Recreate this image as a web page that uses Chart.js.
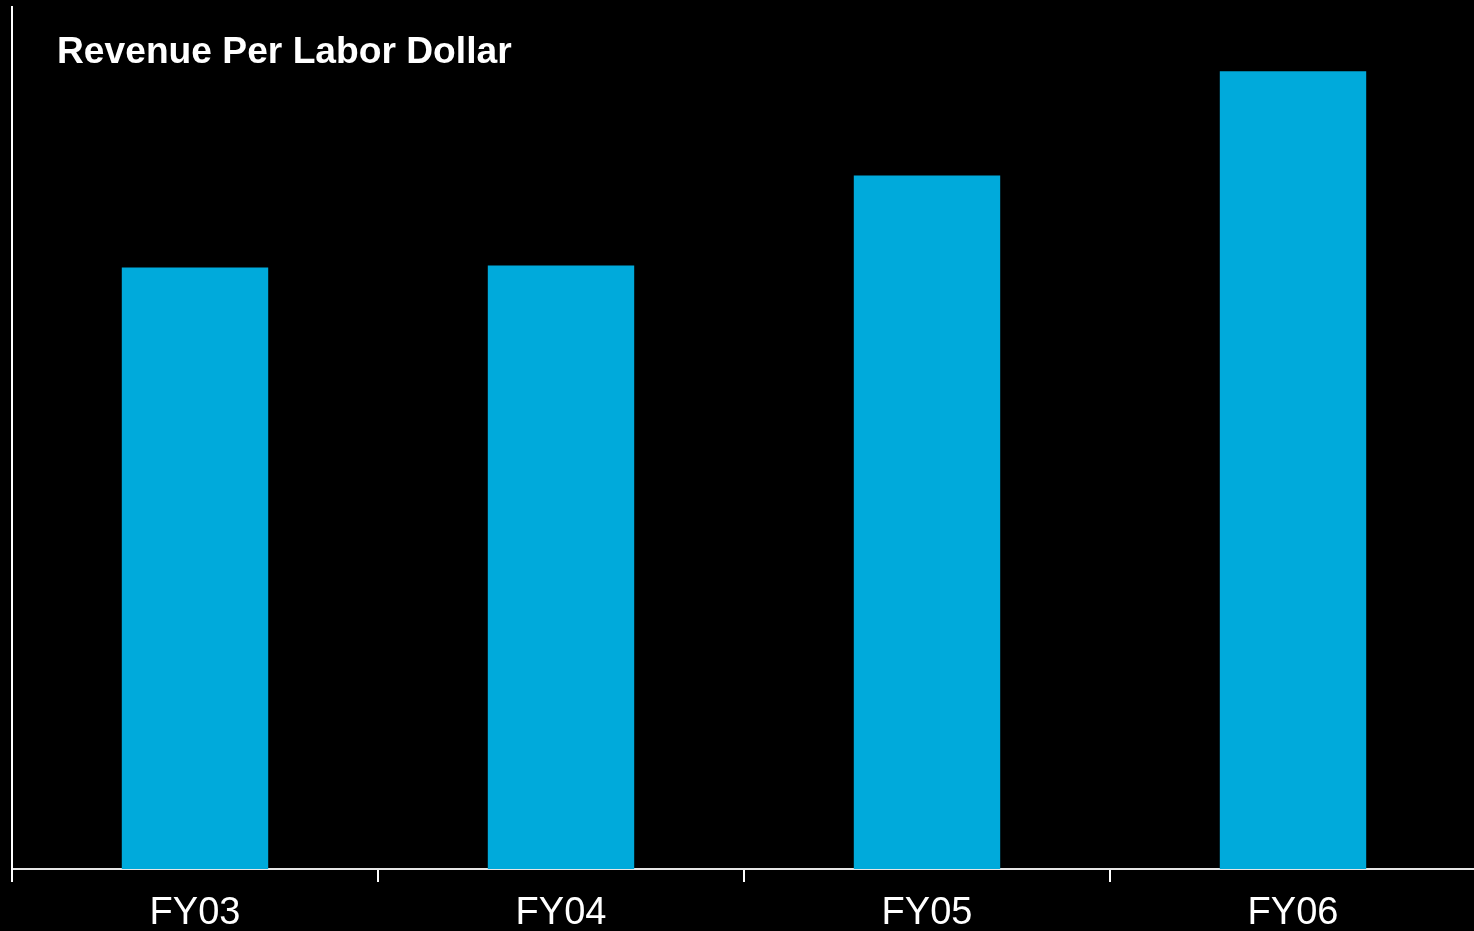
<!DOCTYPE html>
<html>
<head>
<meta charset="utf-8">
<script src="https://cdn.jsdelivr.net/npm/chart.js@4/dist/chart.umd.min.js"></script>
<style>
  html, body { margin: 0; padding: 0; background: #000; overflow: hidden; }
  #wrap { position: relative; width: 1480px; height: 931px; }
  #title {
    position: absolute; left: 57px; top: 32px;
    font: bold 37.2px "Liberation Sans", Arial, sans-serif; line-height: 1;
    color: #fff; white-space: nowrap;
  }
</style>
</head>
<body>
<div id="wrap">
  <canvas id="chart" width="1480" height="931"></canvas>
  <div id="title">Revenue Per Labor Dollar</div>
</div>
<script>
const categories = ['FY03', 'FY04', 'FY05', 'FY06'];
const revenuePerLaborDollar = [3.00, 3.01, 3.46, 3.98];
const yMax = 4.3;

document.addEventListener("DOMContentLoaded", () => {
    const ctx = document.getElementById('chart').getContext('2d');

    new Chart(ctx, {
        type: 'bar',
        data: {
            labels: categories,
            datasets: [{
                data: revenuePerLaborDollar,
                backgroundColor: '#00aadb',
                borderWidth: 0,
                barPercentage: 0.4,
                categoryPercentage: 1
            }]
        },
        options: {
            responsive: false,
            animation: false,
            layout: { padding: { left: 12, right: 4, top: 7, bottom: 0 } },
            plugins: {
                legend: { display: false },
                title: { display: false },
                tooltip: { enabled: false }
            },
            scales: {
                x: {
                    offset: true,
                    border: { display: true, color: '#e6e6e6', width: 2 },
                    grid: {
                        display: true,
                        offset: true,
                        drawOnChartArea: false,
                        drawTicks: true,
                        tickLength: 13,
                        color: '#ffffff',
                        lineWidth: 2
                    },
                    ticks: {
                        color: '#ffffff',
                        padding: 13,
                        font: { family: '"Liberation Sans", Arial, sans-serif', size: 38, lineHeight: 1 }
                    },
                    // axis band fixed so the baseline sits where the reference has it
                    afterFit: (scale) => { scale.height = 62; }
                },
                y: {
                    min: 0,
                    max: yMax,
                    border: { display: true, color: '#ffffff', width: 2 },
                    grid: { display: false, drawTicks: false },
                    ticks: { display: false },
                    afterFit: (scale) => { scale.width = 0; }
                }
            }
        }
    });
});
</script>
</body>
</html>
